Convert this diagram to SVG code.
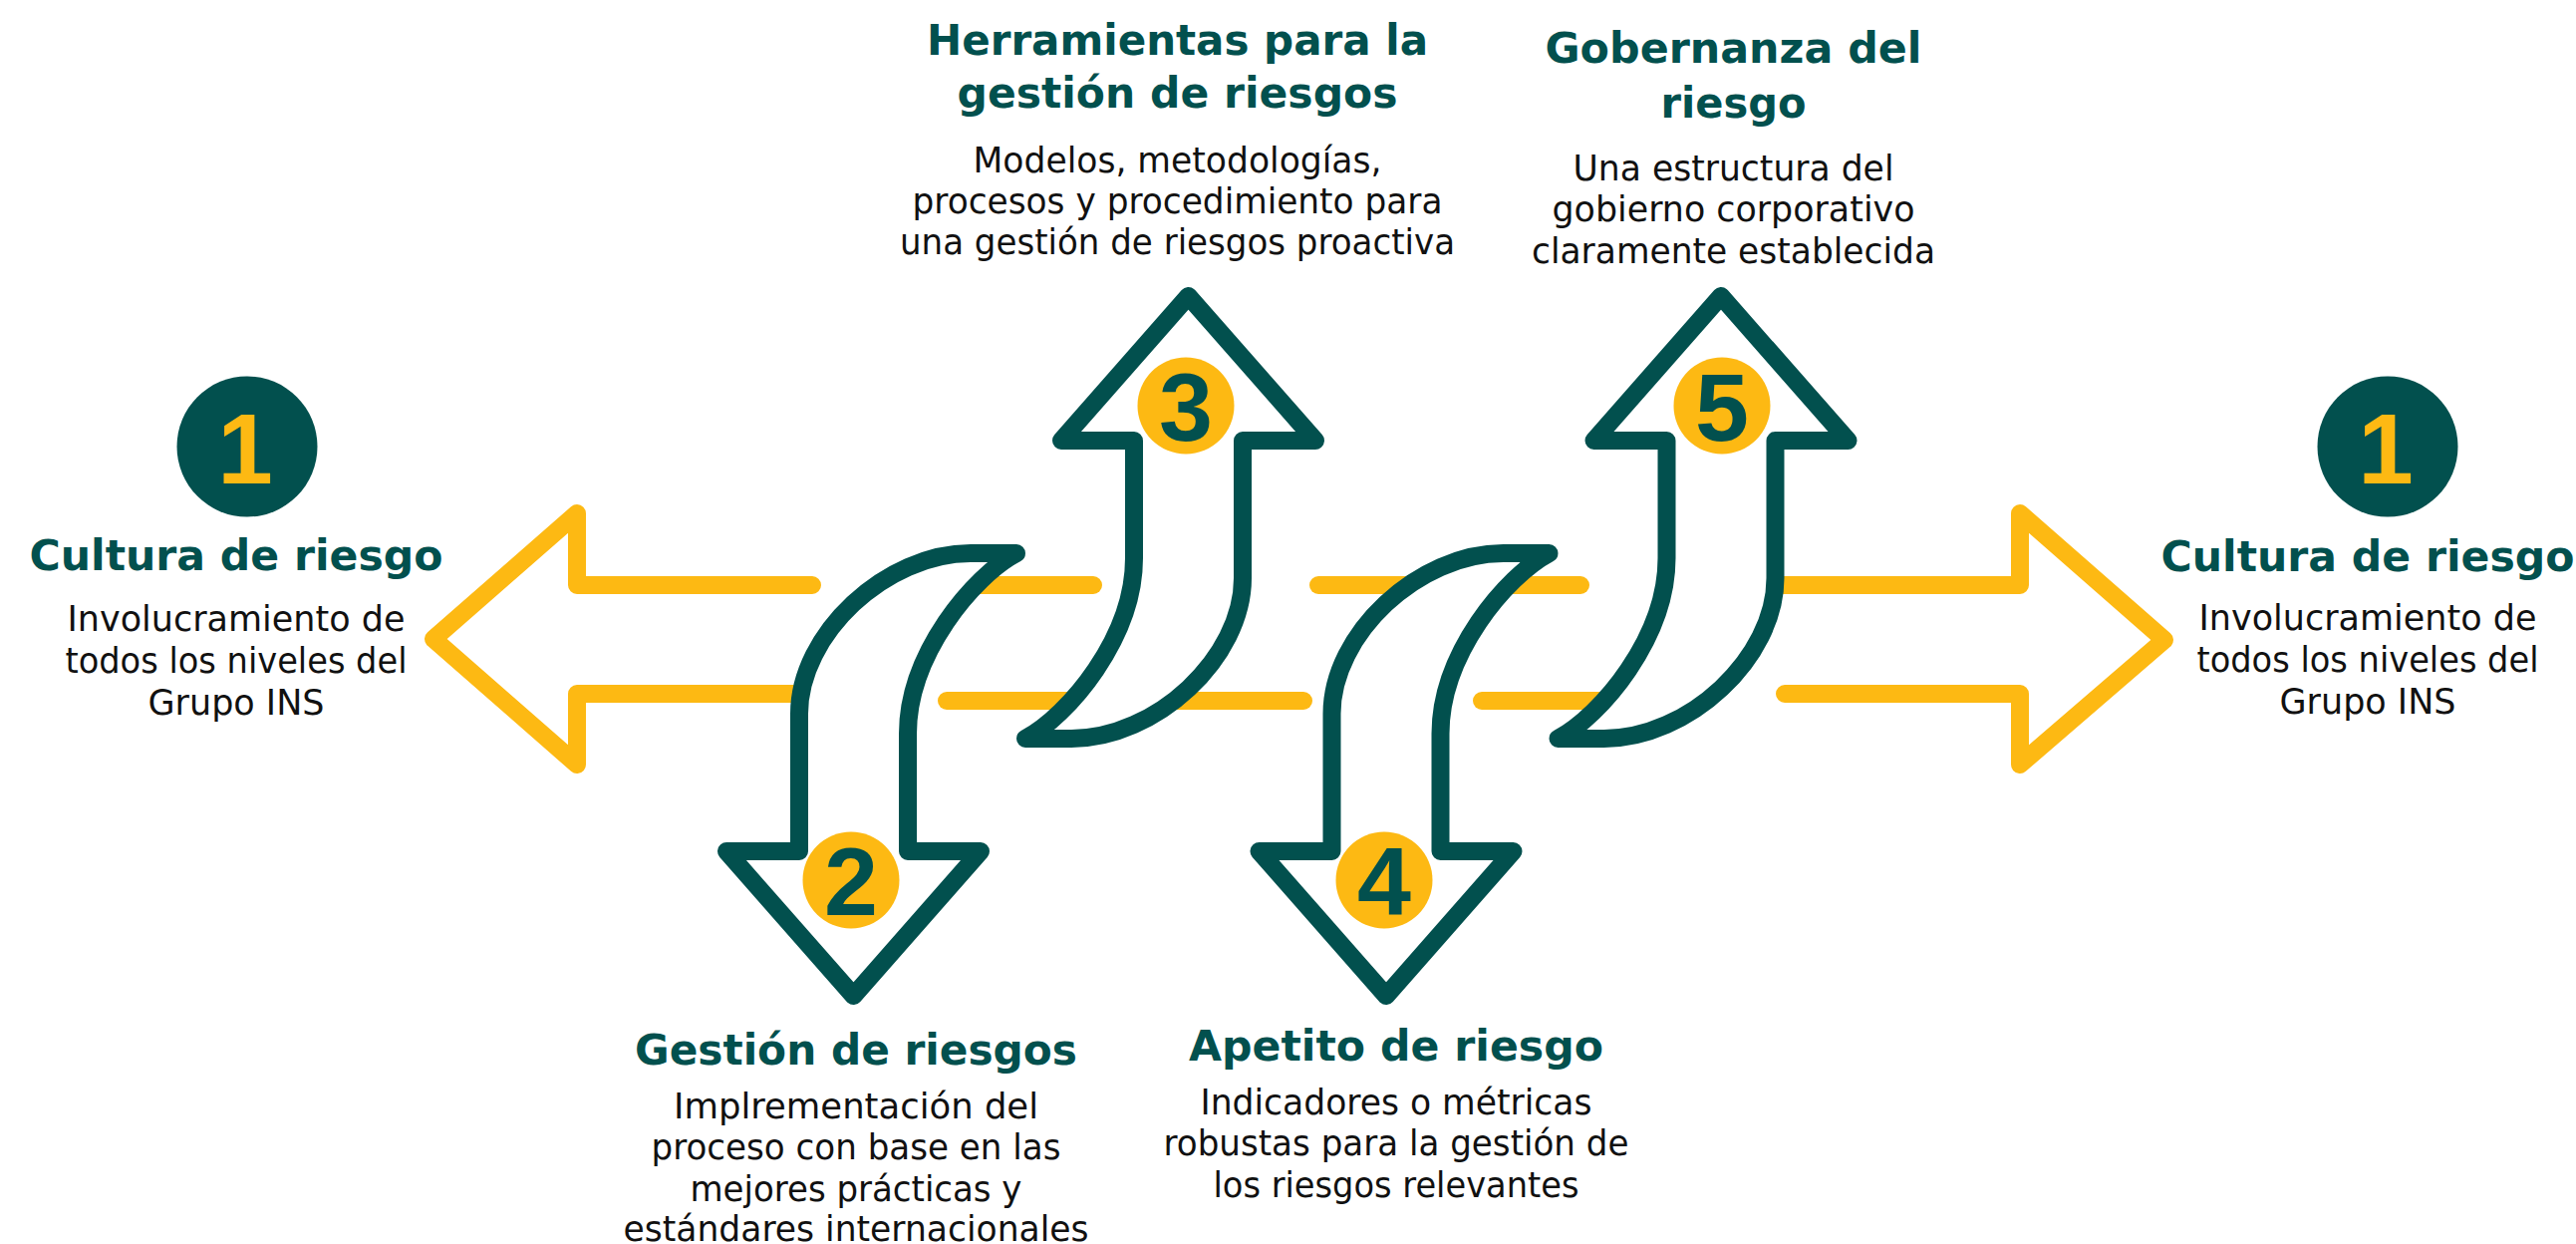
<svg xmlns="http://www.w3.org/2000/svg" xmlns:xlink="http://www.w3.org/1999/xlink" width="2585" height="1248" viewBox="0 0 2585 1248">
<style>
.y{fill:none;stroke:#FDB913;stroke-width:18;stroke-linecap:round;stroke-linejoin:round}
.arr{fill:#fff;stroke:#02504E;stroke-width:18;stroke-linejoin:round;stroke-linecap:round}
.badge{fill:#FDB913}
.big{fill:#02504E}
.num{font-family:"Liberation Sans",Arial,sans-serif;font-weight:bold;font-size:97px;fill:#02504E;text-anchor:middle}
.num1{font-family:"Liberation Sans",Arial,sans-serif;font-weight:bold;font-size:100px;fill:#FDB913;text-anchor:middle}
.t{font-family:"DejaVu Sans",sans-serif;font-weight:bold;font-size:43px;fill:#02504E;text-anchor:middle}
.b{font-family:"DejaVu Sans",sans-serif;font-size:35px;fill:#111111;text-anchor:middle}
</style>
<defs>
<path id="arrowUp" class="arr" d="M 1029 741 C 1072 718 1138 640 1138 560 L 1138 442 L 1065 442 L 1192.5 297 L 1320 442 L 1247 442 L 1247 580 C 1247 660 1160 741 1075 741 Z"/>
</defs>
<g id="connectors">
<path class="y" d="M 815 587 L 579 587 L 579 515 L 435 641 L 579 767 L 579 696 L 830 696"/>
<path class="y" d="M 1770 587 L 2027 587 L 2027 515 L 2172 642 L 2027 767 L 2027 696 L 1791 696"/>
<path class="y" d="M 900 587 L 1097 587"/>
<path class="y" d="M 1323 587 L 1586 587"/>
<path class="y" d="M 950 703 L 1308 703"/>
<path class="y" d="M 1487 703 L 1690 703"/>
</g>
<g id="step-1-left">
<circle class="big" cx="248" cy="448" r="70.5"/>
<text class="num1" x="246" y="485">1</text>
<text class="t" x="237" y="572" textLength="415" lengthAdjust="spacingAndGlyphs">Cultura de riesgo</text>
<text class="b" x="237" y="633" textLength="339" lengthAdjust="spacingAndGlyphs">Involucramiento de</text>
<text class="b" x="237" y="675" textLength="343" lengthAdjust="spacingAndGlyphs">todos los niveles del</text>
<text class="b" x="237" y="717" textLength="177" lengthAdjust="spacingAndGlyphs">Grupo INS</text>
</g>
<g id="step-2">
<use xlink:href="#arrowUp" href="#arrowUp" transform="rotate(180 1024.5 648)"/>
<circle class="badge" cx="854" cy="883" r="48.5"/>
<text class="num" x="854" y="918">2</text>
<text class="t" x="859" y="1068" textLength="444" lengthAdjust="spacingAndGlyphs">Gestión de riesgos</text>
<text class="b" x="859" y="1122" textLength="366" lengthAdjust="spacingAndGlyphs">Implrementación del</text>
<text class="b" x="859" y="1163" textLength="411" lengthAdjust="spacingAndGlyphs">proceso con base en las</text>
<text class="b" x="859" y="1205" textLength="333" lengthAdjust="spacingAndGlyphs">mejores prácticas y</text>
<text class="b" x="859" y="1245" textLength="467" lengthAdjust="spacingAndGlyphs">estándares internacionales</text>
</g>
<g id="step-3">
<use xlink:href="#arrowUp" href="#arrowUp"/>
<circle class="badge" cx="1190" cy="407" r="48.5"/>
<text class="num" x="1190" y="442">3</text>
<text class="t" x="1181.5" y="55" textLength="503" lengthAdjust="spacingAndGlyphs">Herramientas para la</text>
<text class="t" x="1181.5" y="108" textLength="442" lengthAdjust="spacingAndGlyphs">gestión de riesgos</text>
<text class="b" x="1181.5" y="173" textLength="410" lengthAdjust="spacingAndGlyphs">Modelos, metodologías,</text>
<text class="b" x="1181.5" y="214" textLength="532" lengthAdjust="spacingAndGlyphs">procesos y procedimiento para</text>
<text class="b" x="1181.5" y="255" textLength="557" lengthAdjust="spacingAndGlyphs">una gestión de riesgos proactiva</text>
</g>
<g id="step-4">
<use xlink:href="#arrowUp" href="#arrowUp" transform="translate(534.5 0) rotate(180 1024.5 648)"/>
<circle class="badge" cx="1389" cy="883" r="48.5"/>
<text class="num" x="1389" y="918">4</text>
<text class="t" x="1401" y="1064" textLength="416" lengthAdjust="spacingAndGlyphs">Apetito de riesgo</text>
<text class="b" x="1401" y="1118" textLength="393" lengthAdjust="spacingAndGlyphs">Indicadores o métricas</text>
<text class="b" x="1401" y="1159" textLength="467" lengthAdjust="spacingAndGlyphs">robustas para la gestión de</text>
<text class="b" x="1401" y="1201" textLength="367" lengthAdjust="spacingAndGlyphs">los riesgos relevantes</text>
</g>
<g id="step-5">
<use xlink:href="#arrowUp" href="#arrowUp" transform="translate(534.5 0)"/>
<circle class="badge" cx="1728" cy="407" r="48.5"/>
<text class="num" x="1728" y="442">5</text>
<text class="t" x="1739.5" y="63" textLength="378" lengthAdjust="spacingAndGlyphs">Gobernanza del</text>
<text class="t" x="1739.5" y="118" textLength="146" lengthAdjust="spacingAndGlyphs">riesgo</text>
<text class="b" x="1739.5" y="181" textLength="322" lengthAdjust="spacingAndGlyphs">Una estructura del</text>
<text class="b" x="1739.5" y="222" textLength="364" lengthAdjust="spacingAndGlyphs">gobierno corporativo</text>
<text class="b" x="1739.5" y="264" textLength="405" lengthAdjust="spacingAndGlyphs">claramente establecida</text>
</g>
<g id="step-1-right">
<circle class="big" cx="2396" cy="448" r="70.5"/>
<text class="num1" x="2394" y="485">1</text>
<text class="t" x="2376" y="573" textLength="415" lengthAdjust="spacingAndGlyphs">Cultura de riesgo</text>
<text class="b" x="2376" y="632" textLength="339" lengthAdjust="spacingAndGlyphs">Involucramiento de</text>
<text class="b" x="2376" y="674" textLength="343" lengthAdjust="spacingAndGlyphs">todos los niveles del</text>
<text class="b" x="2376" y="716" textLength="177" lengthAdjust="spacingAndGlyphs">Grupo INS</text>
</g>
</svg>
